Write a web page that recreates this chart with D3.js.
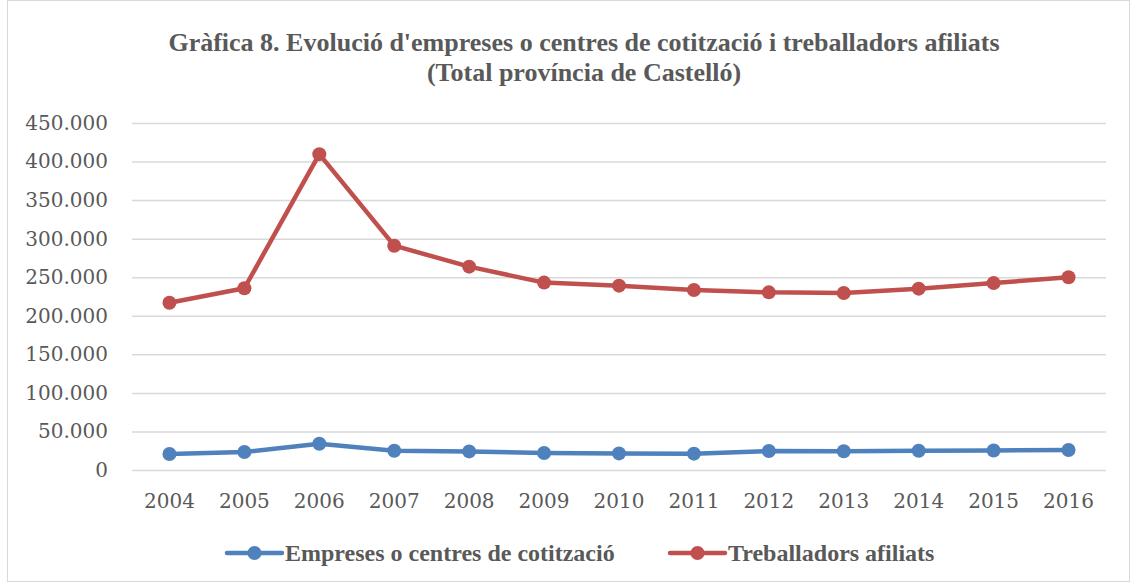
<!DOCTYPE html>
<html>
<head>
<meta charset="utf-8">
<script src="https://cdn.jsdelivr.net/npm/d3@7"></script>
<style>
  body { margin: 0; background: #fff; }
  .title { font-family: "Liberation Serif", serif; font-weight: bold; font-size: 26px; fill: #595959; }
  .tick text { font-family: "DejaVu Serif", serif; font-size: 20px; fill: #595959; }
  .legend-text { font-family: "Liberation Serif", serif; font-weight: bold; font-size: 24px; fill: #595959; }
</style>
</head>
<body>
<script>
var years = ["2004", "2005", "2006", "2007", "2008", "2009", "2010", "2011", "2012", "2013", "2014", "2015", "2016"];
var empreses = [20700, 23300, 34000, 25000, 24100, 22000, 21500, 21200, 24600, 24400, 25000, 25300, 25900];
var treballadors = [216900, 235700, 409600, 290900, 263700, 243000, 239100, 233500, 230400, 229600, 235200, 242400, 250000];
var yTicks = [0, 50000, 100000, 150000, 200000, 250000, 300000, 350000, 400000, 450000];
var seriesNames = ["Empreses o centres de cotització", "Treballadors afiliats"];
var colors = ["#4f81bd", "#c0504d"];

var W = 1131, H = 583;
var margin = {top: 123, right: 25, bottom: 113, left: 132};
var width = W - margin.left - margin.right,
    height = H - margin.top - margin.bottom;

var svg = d3.select("body").append("svg")
    .attr("width", W)
    .attr("height", H);

// outer border
svg.append("rect")
    .attr("x", 7.5).attr("y", 0.5)
    .attr("width", W - 9).attr("height", H - 2)
    .attr("fill", "none")
    .attr("stroke", "#d9d9d9");

svg.append("text")
    .attr("class", "title")
    .attr("x", 584).attr("y", 51)
    .attr("text-anchor", "middle")
    .text("Gràfica 8. Evolució d'empreses o centres de cotització i treballadors afiliats");
svg.append("text")
    .attr("class", "title")
    .attr("x", 584).attr("y", 81)
    .attr("text-anchor", "middle")
    .text("(Total província de Castelló)");

var g = svg.append("g")
    .attr("transform", "translate(" + margin.left + "," + margin.top + ")");

var x = d3.scaleBand().domain(years).range([0, width]);
var y = d3.scaleLinear().domain([0, 450000]).range([height, 0]);

var fmt = d => d === 0 ? "0" : d3.format(",")(d).replace(/,/g, ".");

// grid + y axis
g.append("g")
    .attr("class", "y axis")
    .call(d3.axisLeft(y).tickValues(yTicks).tickSize(-width).tickPadding(24).tickFormat(fmt))
    .call(a => a.select(".domain").remove())
    .call(a => a.selectAll(".tick line").attr("stroke", "#d9d9d9").attr("stroke-width", 1.5));

g.append("g")
    .attr("class", "x axis")
    .attr("transform", "translate(0," + height + ")")
    .call(d3.axisBottom(x).tickSize(0).tickPadding(24))
    .call(a => a.select(".domain").remove());

var line = d3.line()
    .x((d, i) => x(years[i]) + x.bandwidth() / 2)
    .y(d => y(d));

[empreses, treballadors].forEach(function(vals, k) {
    g.append("path")
        .datum(vals)
        .attr("fill", "none")
        .attr("stroke", colors[k])
        .attr("stroke-width", 4.5)
        .attr("stroke-linejoin", "round")
        .attr("d", line);
    g.selectAll(".dot" + k)
        .data(vals)
        .enter()
        .append("circle")
        .attr("class", "dot" + k)
        .attr("cx", (d, i) => x(years[i]) + x.bandwidth() / 2)
        .attr("cy", d => y(d))
        .attr("r", 7)
        .attr("fill", colors[k]);
});

// legend
var legendX = [227, 670];
var legend = svg.append("g").attr("class", "legend");
seriesNames.forEach(function(name, k) {
    var lg = legend.append("g").attr("transform", "translate(" + legendX[k] + ",553)");
    lg.append("line")
        .attr("x1", 0).attr("x2", 55)
        .attr("stroke", colors[k])
        .attr("stroke-width", 4.5)
        .attr("stroke-linecap", "round");
    lg.append("circle").attr("cx", 27.5).attr("r", 7).attr("fill", colors[k]);
    lg.append("text")
        .attr("class", "legend-text")
        .attr("x", 58)
        .attr("dy", "0.33em")
        .text(name);
});
</script>
</body>
</html>
